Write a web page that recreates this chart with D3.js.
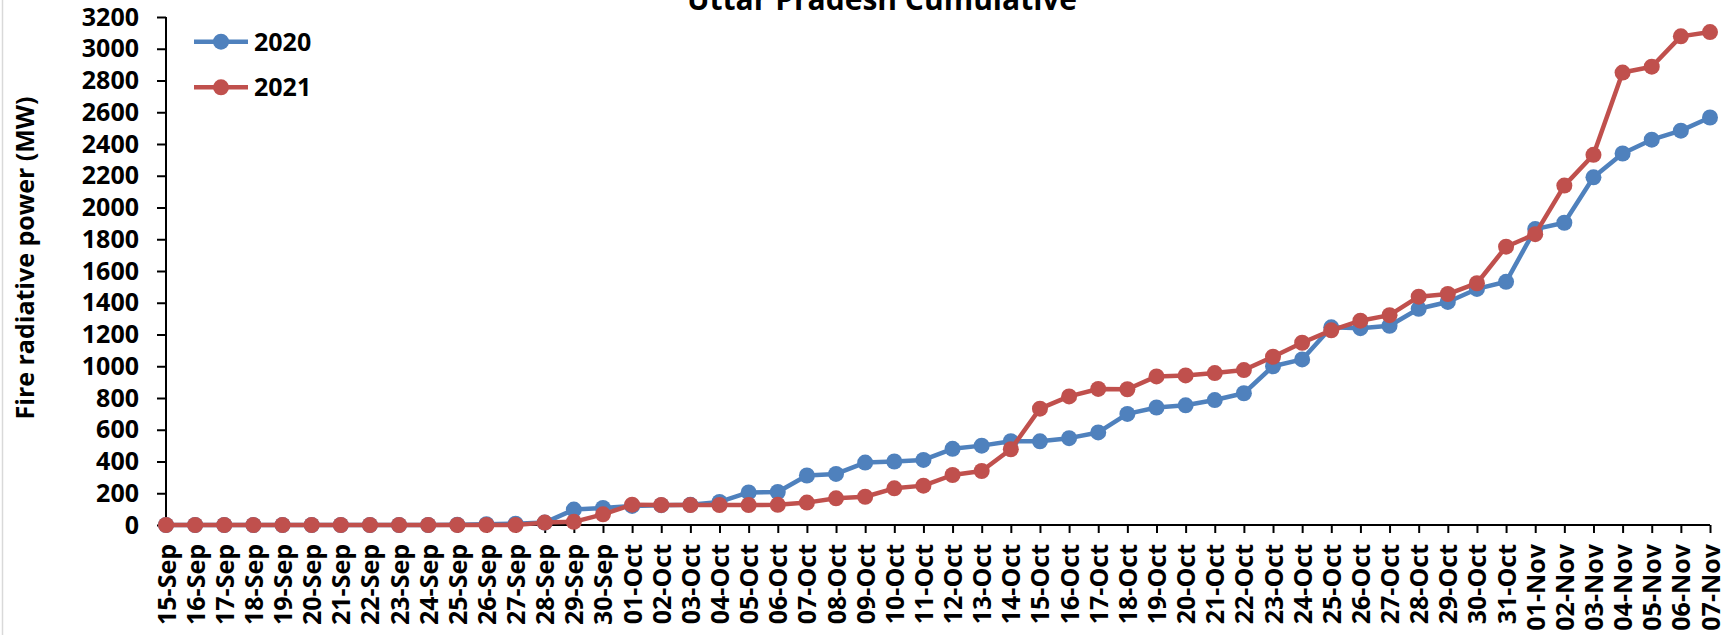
<!DOCTYPE html>
<html>
<head>
<meta charset="utf-8">
<script src="https://cdn.jsdelivr.net/npm/d3@7"></script>
<style>
  html, body { margin: 0; padding: 0; background: #ffffff; }
  svg { display: block; }
  text { font-family: "Open Sans", "Liberation Sans", sans-serif; font-weight: 700; fill: #000; }
</style>
</head>
<body>
<svg id="chart" width="1727" height="635"></svg>
<script>
const chartTitle = "Uttar Pradesh Cumulative";
const yAxisTitle = "Fire radiative power (MW)";
const categories = [
  "15-Sep","16-Sep","17-Sep","18-Sep","19-Sep","20-Sep","21-Sep","22-Sep","23-Sep","24-Sep",
  "25-Sep","26-Sep","27-Sep","28-Sep","29-Sep","30-Sep",
  "01-Oct","02-Oct","03-Oct","04-Oct","05-Oct","06-Oct","07-Oct","08-Oct","09-Oct","10-Oct",
  "11-Oct","12-Oct","13-Oct","14-Oct","15-Oct","16-Oct","17-Oct","18-Oct","19-Oct","20-Oct",
  "21-Oct","22-Oct","23-Oct","24-Oct","25-Oct","26-Oct","27-Oct","28-Oct","29-Oct","30-Oct","31-Oct",
  "01-Nov","02-Nov","03-Nov","04-Nov","05-Nov","06-Nov","07-Nov"
];
const seriesNames = ["2020", "2021"];
const values2020 = [
  0,0,0,0,0,0,0,0,0,0,2,5,8,15,97,107,
  120,125,127,145,205,208,312,322,393,400,410,480,500,528,527,547,583,700,740,754,787,830,1000,1043,1245,1240,1255,1362,1405,1487,1532,
  1864,1904,2190,2340,2427,2484,2567
];
const values2021 = [
  0,0,0,0,0,0,0,0,0,0,0,0,0,15,20,67,
  128,126,126,126,126,127,141,168,178,231,248,315,340,477,733,810,857,855,936,942,957,976,1060,1148,1226,1287,1322,1438,1455,1523,1753,
  1832,2138,2332,2850,2887,3078,3105
];
const yTicks = [0,200,400,600,800,1000,1200,1400,1600,1800,2000,2200,2400,2600,2800,3000,3200];
const colors = ["#4F81BD", "#C0504D"];

const svg = d3.select("#chart");

// chart border (left edge visible)
svg.append("line").attr("x1", 2.5).attr("x2", 2.5).attr("y1", 0).attr("y2", 635)
  .attr("stroke", "#d9d9d9").attr("stroke-width", 1.5);

const x = d3.scalePoint().domain(categories).range([166, 1710]);
const y = d3.scaleLinear().domain([0, 3200]).range([525, 17]);

// Y axis
const yAxis = svg.append("g").attr("transform", "translate(166,0)")
  .call(d3.axisLeft(y).tickValues(yTicks).tickSize(9).tickPadding(18).tickFormat(d3.format("d")));
yAxis.select(".domain").attr("stroke", "#000").attr("stroke-width", 2).attr("d", "M0,17V525");
yAxis.selectAll(".tick line").attr("stroke", "#000").attr("stroke-width", 2);
yAxis.selectAll(".tick text").style("font-size", "25px").style("font-family", "'Open Sans', sans-serif").style("font-weight", 700).attr("fill", "#000");

// X axis
const xAxis = svg.append("g").attr("transform", "translate(0,525)")
  .call(d3.axisBottom(x).tickSize(8).tickPadding(0));
xAxis.select(".domain").attr("stroke", "#000").attr("stroke-width", 2).attr("d", "M166,0H1710");
xAxis.selectAll(".tick line").attr("stroke", "#000").attr("stroke-width", 2);
xAxis.selectAll(".tick text")
  .style("font-size", "25px").style("font-family", "'Open Sans', sans-serif").style("font-weight", 700).attr("fill", "#000")
  .attr("text-anchor", "end")
  .attr("transform", "rotate(-90)")
  .attr("x", -19).attr("y", 0).attr("dy", "0.36em");

// Series
const series = [values2020, values2021];
series.forEach((vals, i) => {
  const pts = categories.map((c, k) => [x(c), y(vals[k])]);
  svg.append("path")
    .attr("d", d3.line()(pts))
    .attr("fill", "none").attr("stroke", colors[i]).attr("stroke-width", 4.5)
    .attr("stroke-linejoin", "round");
  svg.append("g").selectAll("circle").data(pts).join("circle")
    .attr("cx", d => d[0]).attr("cy", d => d[1]).attr("r", 8)
    .attr("fill", colors[i]);
});

// Title
svg.append("text").attr("x", 882).attr("y", 10).attr("text-anchor", "middle")
  .style("font-size", "30px").text(chartTitle);

// Y axis title
svg.append("text").attr("transform", "translate(34,258) rotate(-90)")
  .attr("text-anchor", "middle").style("font-size", "25px").text(yAxisTitle);

// Legend
const legendY = [41.7, 87.3];
seriesNames.forEach((name, i) => {
  const g = svg.append("g");
  g.append("line").attr("x1", 194).attr("x2", 248).attr("y1", legendY[i]).attr("y2", legendY[i])
    .attr("stroke", colors[i]).attr("stroke-width", 4.5);
  g.append("circle").attr("cx", 221).attr("cy", legendY[i]).attr("r", 8).attr("fill", colors[i]);
  g.append("text").attr("x", 254).attr("y", legendY[i]).attr("dy", "0.36em")
    .style("font-size", "25px").text(name);
});
</script>
</body>
</html>
